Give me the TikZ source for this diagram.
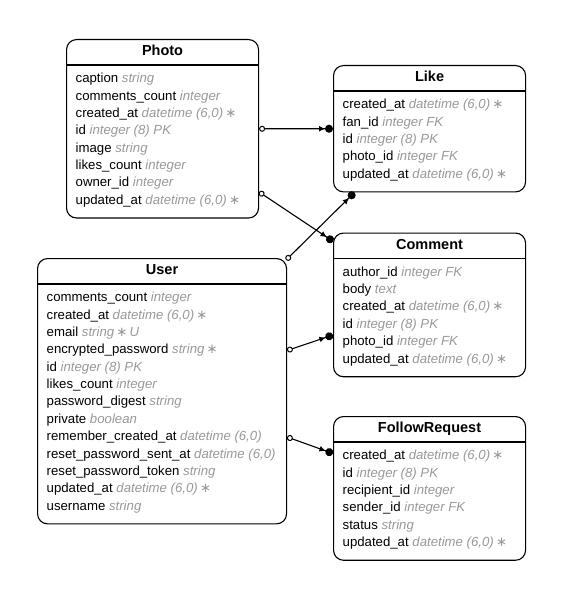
\documentclass[tikz,border=0pt]{standalone}
\usepackage{fontspec}
\setmainfont{Liberation Sans}
\newfontfamily\symfont{DejaVu Sans}
\usetikzlibrary{arrows.meta,calc}
\definecolor{typegray}{RGB}{153,153,153}
\newcommand\ty[1]{{\color{typegray}\itshape #1}}
\newcommand\st{{\upshape\symfont ∗}}
\newcommand\erent[6]{%
  \node[entitybox, minimum width=#4pt, minimum height={26pt+#5*17.37pt+13.5pt}] (#1) at (#2,#3) {};
  \draw[boxline] ($(#1.north west)+(0,26)$) -- ($(#1.north east)+(0,26)$);
  \node[titletext] (#1-title) at ($(#1.north)+(0,16.7)$) {#6};
}
\newcommand\erows[2]{%
  \foreach \r [count=\i] in {#2}{%
    \node[fieldtext] (#1-\i) at ($(#1.north west)+(9.5,{43.7+(\i-1)*17.37})$) {\r};
  }%
}
\begin{document}
\begin{tikzpicture}[x=1pt,y=-1pt,
  entitybox/.style={draw=black, line width=1.1pt, rounded corners=10pt, anchor=north west, inner sep=0pt, fill=white},
  boxline/.style={line width=1.1pt},
  titletext/.style={anchor=base, inner sep=0pt, font=\fontsize{14.5}{17}\selectfont\bfseries},
  fieldtext/.style={anchor=base west, inner sep=0pt, font=\fontsize{13.2}{15}\selectfont},
  rel/.style={line width=1.1pt, {Circle[open,length=6pt,width=6pt,fill=white,line width=1pt]}-{Latex[length=6pt,width=6pt]Circle[length=8pt,width=8pt]}}
]
\useasboundingbox (0,0) rectangle (563,599);
\fill[white] (0,0) rectangle (563,599);

\erent{photo}{66}{39}{192}{8}{Photo}
\erows{photo}{{caption \ty{string}},{comments\_count \ty{integer}},{created\_at \ty{datetime (6,0)\,\st}},{id \ty{integer (8) PK}},{image \ty{string}},{likes\_count \ty{integer}},{owner\_id \ty{integer}},{updated\_at \ty{datetime (6,0)\,\st}}}

\erent{like}{333}{65}{192}{5}{Like}
\erows{like}{{created\_at \ty{datetime (6,0)\,\st}},{fan\_id \ty{integer FK}},{id \ty{integer (8) PK}},{photo\_id \ty{integer FK}},{updated\_at \ty{datetime (6,0)\,\st}}}

\erent{comment}{333}{232.5}{192}{6}{Comment}
\erows{comment}{{author\_id \ty{integer FK}},{body \ty{text}},{created\_at \ty{datetime (6,0)\,\st}},{id \ty{integer (8) PK}},{photo\_id \ty{integer FK}},{updated\_at \ty{datetime (6,0)\,\st}}}

\erent{user}{37}{258}{249}{13}{User}
\erows{user}{{comments\_count \ty{integer}},{created\_at \ty{datetime (6,0)\,\st}},{email \ty{string\,\st\,U}},{encrypted\_password \ty{string\,\st}},{id \ty{integer (8) PK}},{likes\_count \ty{integer}},{password\_digest \ty{string}},{private \ty{boolean}},{remember\_created\_at \ty{datetime (6,0)}},{reset\_password\_sent\_at \ty{datetime (6,0)}},{reset\_password\_token \ty{string}},{updated\_at \ty{datetime (6,0)\,\st}},{username \ty{string}}}

\erent{follow}{333}{416}{192}{6}{FollowRequest}
\erows{follow}{{created\_at \ty{datetime (6,0)\,\st}},{id \ty{integer (8) PK}},{recipient\_id \ty{integer}},{sender\_id \ty{integer FK}},{status \ty{string}},{updated\_at \ty{datetime (6,0)\,\st}}}

\coordinate (c2s) at ($(photo.north east)+(0,153)$);
\coordinate (c2e) at ($(comment.north west)+(0.3,9)$);
\coordinate (c3s) at ($(user.north east)+(-1,2)$);
\coordinate (c3e) at ($(like.south west)+(21.5,0)$);
\coordinate (c4s) at ($(user.north east)+(0,92.5)$);
\coordinate (c4e) at ($(comment.north west)+(0,102.5)$);
\coordinate (c5s) at ($(user.north east)+(0,179)$);
\coordinate (c5e) at ($(follow.north west)+(0,37.5)$);

\draw[rel] (photo.east) -- (like.west);
\draw[rel] (c2s) -- (c2e);
\draw[rel] (c3s) -- (c3e);
\draw[rel] (c4s) -- (c4e);
\draw[rel] (c5s) -- (c5e);
\end{tikzpicture}
\end{document}
